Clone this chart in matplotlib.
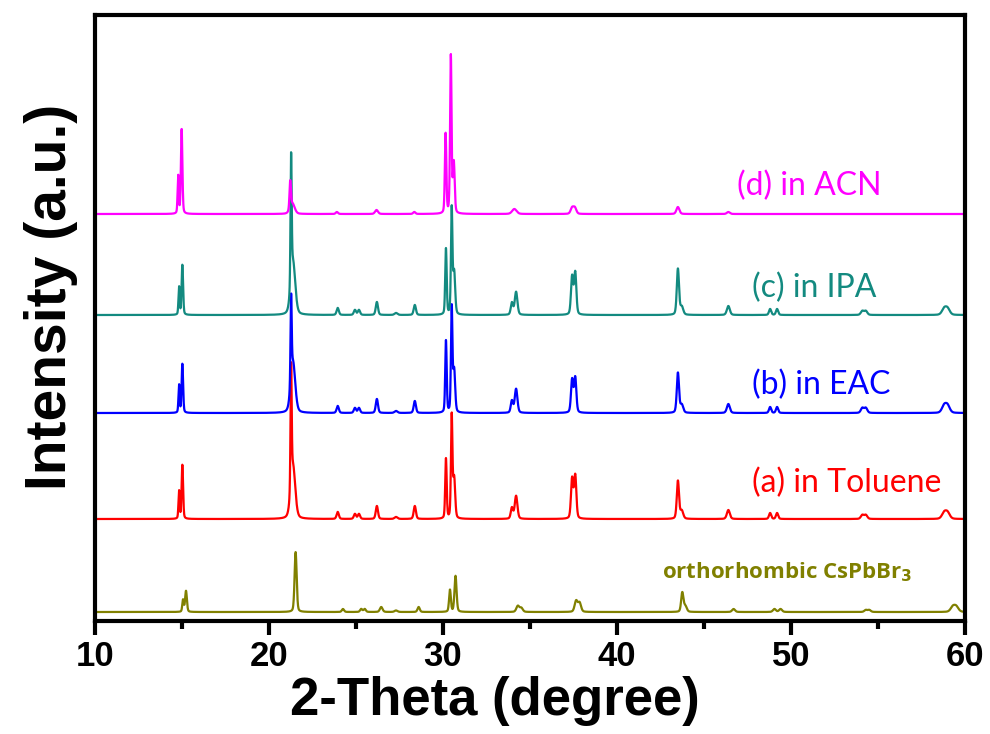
import numpy as np
import matplotlib
matplotlib.use("Agg")
import matplotlib.pyplot as plt
from matplotlib.ticker import MultipleLocator

# ---------------- data ----------------
# each pattern: peak positions (2-theta), peak heights (a.u.), peak FWHM (deg), vertical offset
acn_pos = [14.78, 14.98, 21.22, 21.35, 23.9, 26.18, 28.35, 30.15, 30.45, 30.62, 34.1, 37.42, 37.58, 43.5, 46.4]
acn_h   = [38, 85, 28, 10, 2, 4, 2, 80, 158, 50, 5, 6, 6, 7, 2]
acn_w   = [0.08, 0.1, 0.1, 0.3, 0.15, 0.2, 0.15, 0.1, 0.1, 0.12, 0.3, 0.2, 0.2, 0.2, 0.2]
acn_off = 407

ipa_pos = [14.83, 15.02, 21.27, 21.38, 23.95, 24.94, 25.17, 26.2, 27.3, 28.38, 30.17, 30.5, 30.64,
           33.96, 34.2, 37.42, 37.6, 43.5, 43.72, 46.4, 48.8, 49.2, 54.1, 54.3, 58.8, 59.0]
ipa_h   = [28, 50, 128, 52, 7, 5, 5, 13, 2, 10, 66, 105, 42,
           12, 23, 38, 42, 46, 8, 9, 6, 6, 4, 4, 6, 6]
ipa_w   = [0.08, 0.1, 0.08, 0.3, 0.15, 0.15, 0.15, 0.15, 0.2, 0.15, 0.1, 0.1, 0.14,
           0.15, 0.18, 0.15, 0.15, 0.15, 0.2, 0.2, 0.15, 0.15, 0.2, 0.2, 0.3, 0.3]
ipa_off = 306

eac_pos = ipa_pos
eac_h   = [28, 49, 86, 50, 7, 5, 5, 14, 2, 12, 72, 104, 42,
           12, 24, 33, 35, 40, 8, 9, 6, 6, 5, 5, 7, 7]
eac_w   = ipa_w
eac_off = 208

tol_pos = ipa_pos
tol_h   = [28, 54, 122, 52, 7, 5, 5, 13, 2, 13, 60, 102, 40,
           11, 23, 40, 43, 38, 8, 9, 6, 6, 4, 4, 6, 6]
tol_w   = ipa_w
tol_off = 102

ort_pos = [15.06, 15.23, 21.53, 24.25, 25.3, 25.5, 26.45, 27.3, 28.6, 30.4, 30.72, 34.3, 34.5,
           37.65, 37.85, 43.75, 43.92, 46.7, 49.05, 49.4, 54.3, 54.5, 59.3, 59.5]
ort_h   = [12, 21, 60, 3, 3, 3, 5, 1.5, 5, 22, 36, 6, 4,
           11, 9, 19, 6, 3, 3, 3, 2, 2, 5, 5]
ort_w   = [0.1, 0.12, 0.14, 0.15, 0.15, 0.15, 0.18, 0.2, 0.15, 0.12, 0.14, 0.2, 0.2,
           0.2, 0.2, 0.15, 0.2, 0.2, 0.2, 0.2, 0.2, 0.2, 0.3, 0.3]
ort_off = 9

labels = ["(d) in ACN", "(c) in IPA", "(b) in EAC", "(a) in Toluene", "orthorhombic CsPbBr$_\\mathbf{3}$"]
colors = ["#FF00FF", "#138A80", "#0000FF", "#FF0000", "#808000"]
label_x = [46.9, 47.75, 47.75, 47.75, 42.6]
label_dy = [28, 27, 28, 36, 40]

xticks = [10, 20, 30, 40, 50, 60]


def pattern(x, pos, h, w):
    y = np.zeros_like(x)
    for p, a, f in zip(pos, h, w):
        hw = f / 2.0
        lor = 1.0 / (1.0 + ((x - p) / hw) ** 2)
        gau = np.exp(-np.log(2) * ((x - p) / hw) ** 2)
        y += a * (0.3 * lor + 0.7 * gau)
    return y


x = np.linspace(10, 60, 6000)
series = [
    (acn_pos, acn_h, acn_w, acn_off),
    (ipa_pos, ipa_h, ipa_w, ipa_off),
    (eac_pos, eac_h, eac_w, eac_off),
    (tol_pos, tol_h, tol_w, tol_off),
    (ort_pos, ort_h, ort_w, ort_off),
]

fig = plt.figure(figsize=(9.9, 7.34), dpi=100)
ax = fig.add_axes([95 / 990, 1 - 621 / 734, 870 / 990, 606 / 734])

for i in reversed(range(len(series))):
    pos, h, w, off = series[i]
    y = off + pattern(x, pos, h, w)
    ax.plot(x, y, color=colors[i], lw=1.6, zorder=2 + (5 - i) * 0.1)

for i, (lab, lx, dy) in enumerate(zip(labels, label_x, label_dy)):
    off = series[i][3]
    if i == 4:
        ax.text(lx, off + dy, lab, color=colors[i], ha="left", va="center",
                fontsize=16, fontweight="bold", family=["Open Sans", "DejaVu Sans"])
    else:
        ax.text(lx, off + dy, lab, color=colors[i], ha="left", va="center",
                fontsize=23, family=["Lato", "DejaVu Sans"])

ax.set_xlim(10, 60)
ax.set_ylim(0, 606)
ax.set_xticks(xticks)
ax.xaxis.set_minor_locator(MultipleLocator(5))
ax.set_yticks([])
for s in ax.spines.values():
    s.set_linewidth(3)
ax.tick_params(axis="x", which="major", direction="out", length=10, width=3,
               labelsize=25, pad=4)
ax.tick_params(axis="x", which="minor", direction="out", length=6, width=3)
for t in ax.get_xticklabels():
    t.set_fontweight("bold")
    t.set_family("Liberation Sans")

ax.set_xlabel("2-Theta (degree)", fontsize=38, fontweight="bold", family="Liberation Sans")
ax.set_ylabel("Intensity (a.u.)", fontsize=41, fontweight="bold", family="Liberation Sans")
ax.xaxis.set_label_coords(0.46, -0.091)
ax.yaxis.set_label_coords(-0.02, 0.535)

fig.savefig("out.png", dpi=100)
